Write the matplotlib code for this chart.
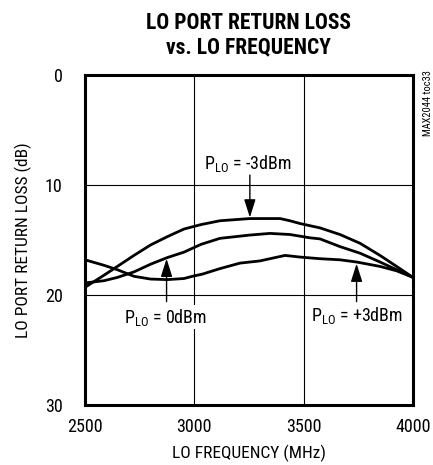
import matplotlib
matplotlib.use('Agg')
import matplotlib.pyplot as plt
from matplotlib import font_manager

# pick a narrow sans if one is around, otherwise plain Liberation Sans
names = {f.name for f in font_manager.fontManager.ttflist}
narrow = [n for n in ['Liberation Sans Narrow', 'Roboto Condensed', 'Arial Narrow',
                      'Nimbus Sans Narrow'] if n in names]
if narrow:
    plt.rcParams['font.family'] = [narrow[0], 'DejaVu Sans']
    fs = 12.5
else:
    plt.rcParams['font.family'] = ['Liberation Sans', 'DejaVu Sans']
    fs = 10.5

# LO port return loss (dB) vs LO frequency (MHz)
freq_m3 = [2500, 2587, 2648, 2724, 2800, 2876, 2953, 3030, 3117, 3254, 3392, 3437, 3483,
           3575, 3666, 3758, 3849, 3925, 4000]
rl_m3 = [19.3, 18.2, 17.4, 16.4, 15.45, 14.7, 14.0, 13.6, 13.25, 13.05, 13.05, 13.25, 13.5,
         13.9, 14.5, 15.3, 16.4, 17.4, 18.4]

freq_0 = [2500, 2587, 2648, 2724, 2800, 2876, 2953, 3030, 3117, 3254, 3346, 3437, 3529,
          3575, 3666, 3758, 3849, 3925, 4000]
rl_0 = [18.9, 18.7, 18.4, 17.9, 17.2, 16.6, 16.1, 15.4, 14.85, 14.55, 14.4, 14.5, 14.8,
        14.9, 15.6, 16.2, 17.0, 17.7, 18.4]

freq_p3 = [2500, 2587, 2648, 2724, 2800, 2876, 2953, 2991, 3037, 3117, 3209, 3300, 3346,
           3415, 3483, 3575, 3666, 3742, 3849, 3925, 4000]
rl_p3 = [16.8, 17.3, 17.7, 18.3, 18.55, 18.6, 18.5, 18.3, 18.1, 17.6, 17.1, 16.9, 16.7,
         16.4, 16.55, 16.7, 16.8, 17.0, 17.4, 17.8, 18.4]

xticks = [2500, 3000, 3500, 4000]
yticks = [0, 10, 20, 30]

fig = plt.figure(figsize=(4.33, 4.65), dpi=100)
ax = fig.add_axes([0.1963, 0.129, 0.7575, 0.7097])

for f, r in [(freq_m3, rl_m3), (freq_0, rl_0), (freq_p3, rl_p3)]:
    ax.plot(f, r, color='black', lw=2.0, solid_capstyle='round', solid_joinstyle='round')

ax.set_xlim(2500, 4000)
ax.set_ylim(30, 0)
ax.set_xticks(xticks)
ax.set_yticks(yticks)
ax.tick_params(length=0, labelsize=fs + 0.5)
ax.tick_params(axis='y', pad=16)
ax.tick_params(axis='x', pad=9)
ax.grid(True, color='black', lw=0.8)
for s in ax.spines.values():
    s.set_linewidth(2.2)

ax.set_xlabel('LO FREQUENCY (MHz)', fontsize=fs)
ax.set_ylabel('LO PORT RETURN LOSS (dB)', fontsize=fs)
ax.xaxis.set_label_coords(0.5, -0.12)
ax.yaxis.set_label_coords(-0.162, 0.5)

fig.text(0.573, 0.925, 'LO PORT RETURN LOSS\nvs. LO FREQUENCY', ha='center', va='center',
         fontsize=fs + 3, fontweight='bold', linespacing=1.12)
fig.text(0.988, 0.849, 'MAX2044 toc33', rotation=90, ha='center', va='top', fontsize=7.5)

# annotations with arrows
arrowprops = dict(arrowstyle='-|>,head_length=1.1,head_width=0.35', color='black', lw=1.0,
                  shrinkA=0, shrinkB=0)
ax.annotate('', xy=(3254, 12.95), xytext=(3254, 9.1), arrowprops=arrowprops)
ax.text(3245, 8.0, r'P$_{\mathregular{LO}}$ = -3dBm', ha='center', va='center', fontsize=fs + 0.5)

ax.annotate('', xy=(2873, 16.7), xytext=(2873, 20.6), arrowprops=arrowprops)
ax.text(2868, 22.0, r'P$_{\mathregular{LO}}$ = 0dBm', ha='center', va='center', fontsize=fs + 0.5,
        bbox=dict(facecolor='white', edgecolor='none', pad=1))

ax.annotate('', xy=(3742, 17.15), xytext=(3742, 20.6), arrowprops=arrowprops)
ax.text(3742, 21.9, r'P$_{\mathregular{LO}}$ = +3dBm', ha='center', va='center', fontsize=fs + 0.5,
        bbox=dict(facecolor='white', edgecolor='none', pad=1))

fig.savefig('out.png', dpi=100)
